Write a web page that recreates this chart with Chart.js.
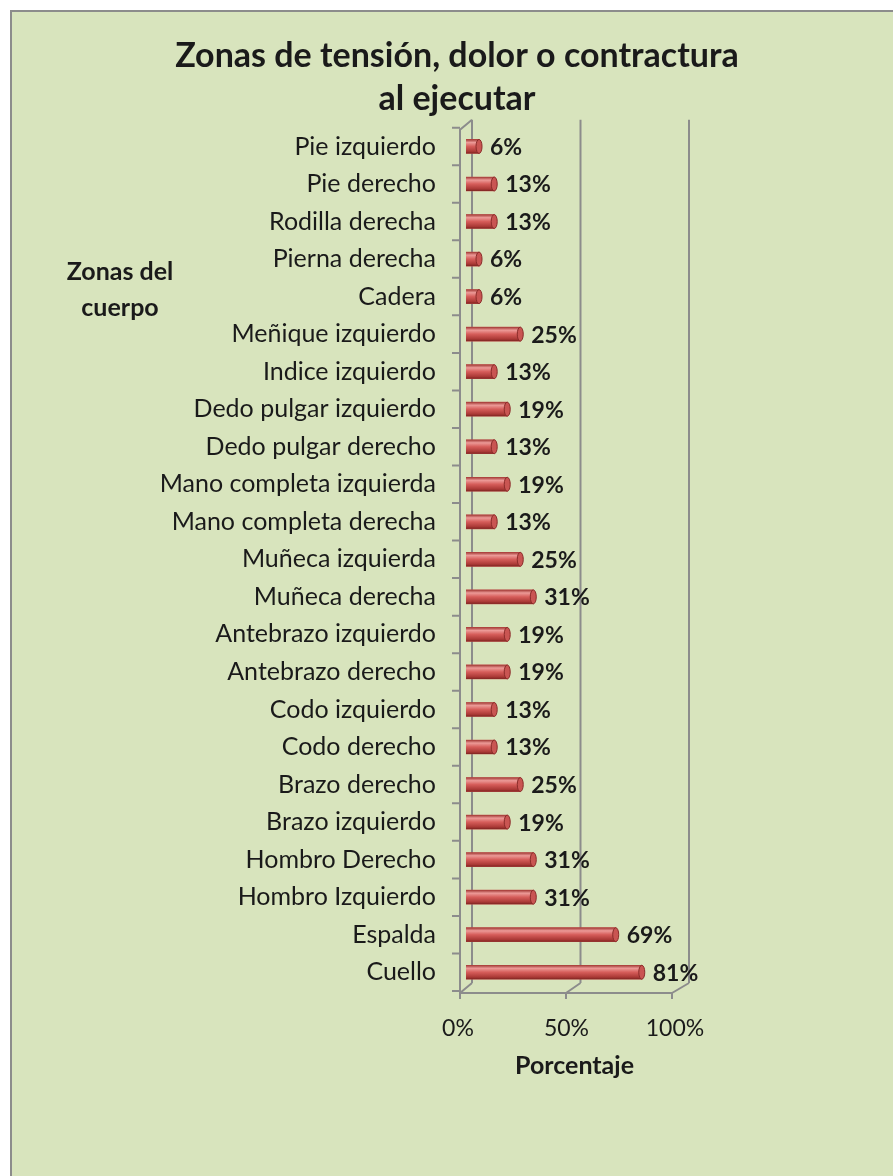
<!DOCTYPE html>
<html>
<head>
<meta charset="utf-8">
<script src="https://cdn.jsdelivr.net/npm/chart.js@4"></script>
<style>
  html, body { margin: 0; padding: 0; background: #ffffff; }
  #frame {
    position: absolute; left: 10px; top: 10px; width: 900px; height: 1180px;
    background: #d8e4bd; border-left: 2px solid #8c8c8c; border-top: 2px solid #8c8c8c;
  }
  #chart { position: absolute; left: 0; top: 0; }
</style>
</head>
<body>
<div id="frame"></div>
<canvas id="chart" width="893" height="1176"></canvas>
<script>
const categories = [
    "Pie izquierdo", "Pie derecho", "Rodilla derecha", "Pierna derecha", "Cadera",
    "Meñique izquierdo", "Indice izquierdo", "Dedo pulgar izquierdo", "Dedo pulgar derecho",
    "Mano completa izquierda", "Mano completa derecha", "Muñeca izquierda", "Muñeca derecha",
    "Antebrazo izquierdo", "Antebrazo derecho", "Codo izquierdo", "Codo derecho",
    "Brazo derecho", "Brazo izquierdo", "Hombro Derecho", "Hombro Izquierdo", "Espalda", "Cuello"
];
const porcentajes = [6, 13, 13, 6, 6, 25, 13, 19, 13, 19, 13, 25, 31, 19, 19, 13, 13, 25, 19, 31, 31, 69, 81];
const xTicks = [0, 50, 100];

const titleLines = ["Zonas de tensión, dolor o contractura", "al ejecutar"];
const yTitleLines = ["Zonas del", "cuerpo"];
const xTitle = "Porcentaje";

const GRID = "#8c8c8c";
const TEXT = "#1a1a1a";

// 3D-ish walls: back wall shifted up/right, front edge down/left
const frame3d = {
    id: "frame3d",
    beforeDatasetsDraw(chart) {
        const ctx = chart.ctx;
        const { top, bottom } = chart.chartArea;
        const x = chart.scales.x;
        const back = v => x.getPixelForValue(v) + 6;
        const front = v => x.getPixelForValue(v) - 6 - v * 0.05;
        ctx.save();
        ctx.strokeStyle = GRID;
        ctx.lineWidth = 2;
        ctx.beginPath();
        xTicks.forEach(v => {
            ctx.moveTo(back(v), top - 8);
            ctx.lineTo(back(v), bottom - 8);
            ctx.moveTo(front(v), bottom + 2);
            ctx.lineTo(back(v), bottom - 8);
            ctx.moveTo(front(v), bottom + 2);
            ctx.lineTo(front(v), bottom + 8);
        });
        ctx.moveTo(front(0), bottom + 2);
        ctx.lineTo(front(100), bottom + 2);
        ctx.moveTo(front(0), bottom + 2);
        ctx.lineTo(front(0), top + 2);
        ctx.lineTo(back(0), top - 8);
        const n = categories.length;
        for (let k = 0; k <= n; k++) {
            const yy = top + k * (bottom - top) / n;
            ctx.moveTo(front(0) - 8, yy);
            ctx.lineTo(front(0), yy);
        }
        ctx.stroke();
        ctx.restore();
    }
};

// cylinder shading over the bars + value labels
const barStyle = {
    id: "barStyle",
    afterDatasetsDraw(chart) {
        const ctx = chart.ctx;
        const meta = chart.getDatasetMeta(0);
        ctx.save();
        meta.data.forEach((el, i) => {
            const h = el.height;
            const y0 = el.y - h / 2;
            const g = ctx.createLinearGradient(0, y0, 0, y0 + h);
            g.addColorStop(0, "#a13834");
            g.addColorStop(0.22, "#ec9a97");
            g.addColorStop(0.5, "#d65d5a");
            g.addColorStop(0.85, "#aa3936");
            g.addColorStop(1, "#7e2421");
            ctx.fillStyle = g;
            ctx.fillRect(el.base, y0, el.x - el.base, h);
            ctx.beginPath();
            ctx.ellipse(el.x, el.y, 3, h / 2, 0, 0, Math.PI * 2);
            ctx.fillStyle = "#c95552";
            ctx.fill();
            ctx.strokeStyle = "#8a2b29";
            ctx.lineWidth = 1;
            ctx.stroke();

            ctx.fillStyle = TEXT;
            ctx.font = "bold 23px Lato";
            ctx.textAlign = "left";
            ctx.textBaseline = "middle";
            ctx.fillText(porcentajes[i] + "%", el.x + 11, el.y + 1);
        });
        ctx.restore();
    },
    afterDraw(chart) {
        const ctx = chart.ctx;
        ctx.save();
        ctx.fillStyle = TEXT;
        ctx.font = "bold 25px Lato";
        ctx.textAlign = "center";
        ctx.textBaseline = "middle";
        yTitleLines.forEach((t, i) => ctx.fillText(t, 120, 272 + i * 36));
        ctx.restore();
    }
};

function draw() {
    new Chart(document.getElementById("chart"), {
        type: "bar",
        data: {
            labels: categories,
            datasets: [{
                data: porcentajes,
                backgroundColor: "#c0504d",
                borderWidth: 0,
                barThickness: 14
            }]
        },
        options: {
            indexAxis: "y",
            responsive: false,
            animation: false,
            devicePixelRatio: 1,
            layout: { padding: { left: 21, right: 0, top: 35, bottom: 0 } },
            plugins: {
                legend: { display: false },
                tooltip: { enabled: false },
                title: {
                    display: true,
                    text: titleLines,
                    color: TEXT,
                    font: { family: "Lato", size: 34, weight: "bold", lineHeight: 1.26 },
                    padding: { top: 0, bottom: 7 }
                }
            },
            scales: {
                x: {
                    min: 0, max: 100,
                    grid: { display: false, drawTicks: false },
                    border: { display: false },
                    ticks: {
                        stepSize: 50,
                        callback: v => v + "%",
                        color: TEXT,
                        font: { family: "Lato", size: 23 },
                        padding: 24,
                        labelOffset: -8
                    },
                    title: {
                        display: true,
                        text: xTitle,
                        color: TEXT,
                        font: { family: "Lato", size: 25, weight: "bold" },
                        padding: { top: 0, bottom: 95 }
                    },
                    afterFit(s) { s.height = 185; }
                },
                y: {
                    grid: { display: false, drawTicks: false },
                    border: { display: false },
                    ticks: {
                        color: TEXT,
                        font: { family: "Lato", size: 25 },
                        padding: 30
                    },
                    afterFit(s) { s.width = 445; }
                },
                yRight: {
                    type: "linear",
                    position: "right",
                    grid: { display: false, drawTicks: false },
                    border: { display: false },
                    ticks: { display: false },
                    afterFit(s) { s.width = 210; }
                }
            }
        },
        plugins: [frame3d, barStyle]
    });
}

Promise.all([
    document.fonts.load("25px Lato"),
    document.fonts.load("bold 25px Lato")
]).then(draw, draw);
</script>
</body>
</html>
